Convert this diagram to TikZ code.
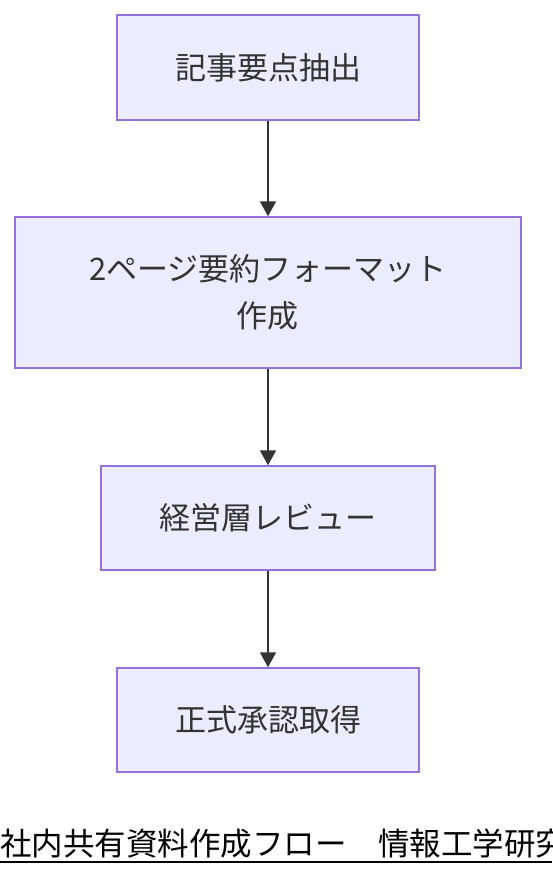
\documentclass[tikz,border=0pt]{standalone}
\usepackage{fontspec}
\setmainfont{Noto Sans CJK JP}
\usetikzlibrary{arrows.meta}
\definecolor{boxfill}{HTML}{ECECFF}
\definecolor{boxline}{HTML}{9370DB}
\definecolor{ink}{HTML}{333333}

\begin{document}
\begin{tikzpicture}[x=1pt, y=-1pt,
    stepbox/.style={rectangle, draw=boxline, fill=boxfill, line width=1.5pt, inner sep=0pt, text=ink, align=center, font=\fontsize{31}{47}\selectfont},
    flow/.style={draw=ink, line width=2pt, -{Triangle[length=15pt, width=16pt]}}]
  \path[use as bounding box, clip] (0, 0) rectangle (552, 876);

  \node[stepbox, minimum width=302pt, minimum height=105pt] (1) at (268, 67.5) {記事要点抽出};
  \node[stepbox, minimum width=506pt, minimum height=151pt] (2) at (268, 292.5) {2ページ要約フォーマット\\作成};
  \node[stepbox, minimum width=334pt, minimum height=104pt] (3) at (268, 518) {経営層レビュー};
  \node[stepbox, minimum width=302pt, minimum height=104pt] (4) at (268, 720) {正式承認取得};

  \draw[flow] (1) -- (2);
  \draw[flow] (2) -- (3);
  \draw[flow] (3) -- (4);

  \node[anchor=base west, inner sep=0pt, font=\fontsize{31.5}{31.5}\selectfont] (title) at (0, 855) {社内共有資料作成フロー　情報工学研究};
  \draw[line width=2pt] ([yshift=-7pt]title.base west) -- ++(552, 0);
\end{tikzpicture}
\end{document}
